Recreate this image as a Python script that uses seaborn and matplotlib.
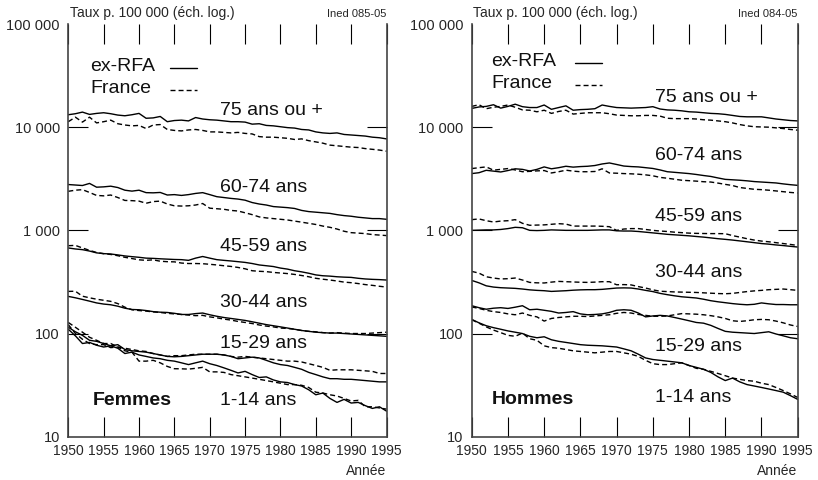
# Mortalité par âge, ex-RFA et France, 1950-1995 (échelle log)
import pandas as pd
import matplotlib
matplotlib.use("Agg")
import matplotlib.pyplot as plt
from matplotlib.ticker import FixedLocator, FuncFormatter
import seaborn as sns

sns.set_style("white")
plt.rcParams["font.family"] = ["Liberation Sans", "DejaVu Sans"]

annees = list(range(1950, 1996))
ages = ["75 ans ou +", "60-74 ans", "45-59 ans", "30-44 ans", "15-29 ans", "1-14 ans"]

# --- FEMMES ---
fem_75_rfa = [13200, 13500, 14000, 13300, 13600, 13800, 13500, 13100, 12900, 13200,
              13600, 12200, 12300, 12700, 11300, 11600, 11700, 11500, 12400, 12000,
              11800, 11700, 11500, 11300, 11300, 11200, 10700, 10800, 10400, 10300,
              10100, 9900, 9800, 9500, 9400, 9000, 8800, 8700, 8800, 8500,
              8400, 8300, 8200, 8000, 7900, 7700]
fem_75_fra = [11300, 12500, 11200, 12500, 11000, 11300, 11700, 10800, 10500, 10300,
              10400, 9700, 10500, 10600, 9500, 9300, 9200, 9400, 9500, 9300,
              9000, 9000, 8900, 8800, 8900, 8700, 8600, 8100, 8000, 8000,
              7900, 7800, 7600, 7700, 7400, 7200, 7000, 6700, 6600, 6500,
              6400, 6350, 6200, 6100, 6000, 5850]
fem_60_rfa = [2780, 2750, 2720, 2850, 2620, 2640, 2680, 2600, 2450, 2400,
              2450, 2320, 2310, 2330, 2200, 2220, 2180, 2220, 2280, 2320,
              2220, 2120, 2080, 2040, 2010, 1960, 1860, 1800, 1760, 1700,
              1680, 1660, 1630, 1560, 1520, 1500, 1480, 1460, 1420, 1390,
              1370, 1340, 1320, 1300, 1300, 1280]
fem_60_fra = [2390, 2450, 2480, 2330, 2180, 2160, 2200, 2080, 1950, 1940,
              1920, 1830, 1900, 1920, 1800, 1730, 1720, 1730, 1760, 1820,
              1640, 1620, 1600, 1560, 1540, 1480, 1420, 1350, 1320, 1300,
              1280, 1260, 1230, 1200, 1170, 1140, 1100, 1070, 1030, 980,
              950, 940, 930, 910, 900, 890]
fem_45_rfa = [675, 660, 650, 630, 605, 595, 590, 578, 565, 556,
              548, 538, 535, 530, 526, 522, 520, 512, 538, 558,
              538, 520, 512, 505, 497, 489, 477, 462, 454, 446,
              431, 421, 406, 396, 384, 370, 363, 360, 355, 352,
              350, 343, 338, 335, 333, 330]
fem_45_fra = [710, 715, 675, 640, 610, 594, 584, 568, 548, 533,
              518, 512, 518, 502, 497, 495, 482, 477, 477, 475,
              469, 462, 454, 447, 437, 424, 406, 401, 398, 391,
              386, 381, 374, 365, 355, 343, 336, 330, 323, 315,
              311, 305, 298, 293, 287, 282]
fem_30_rfa = [229, 222, 214, 206, 198, 193, 190, 184, 176, 171,
              170, 167, 163, 161, 160, 157, 153, 153, 156, 158,
              152, 147, 143, 140, 137, 134, 130, 126, 122, 119,
              116, 113, 110, 107, 105, 103, 102, 101, 101, 100,
              99, 98, 97, 96, 95, 94]
fem_30_fra = [256, 257, 230, 222, 215, 210, 205, 195, 180, 170,
              167, 165, 162, 160, 157, 155, 153, 151, 149, 150,
              145, 142, 138, 135, 131, 128, 125, 121, 118, 116,
              113, 112, 110, 107, 105, 104, 102, 101, 102, 101,
              100, 100, 100, 101, 102, 103]
fem_15_rfa = [115, 104, 96, 86, 84, 80, 76, 78, 70, 68,
              67, 66, 64, 62, 60, 59.5, 60, 61, 62, 63,
              63, 63, 62, 60, 57, 58, 59, 58, 55, 52,
              50, 49, 47, 45, 42, 40, 38, 36.5, 36.5, 36,
              36, 35.5, 35, 34.5, 34, 34]
fem_15_fra = [128, 115, 103, 92, 86, 80, 80, 74, 72, 70,
              68, 67, 64, 62, 60, 61, 61, 62, 63, 63,
              63, 63, 62, 60, 59, 60, 59, 58, 57, 56,
              55, 54, 54, 53, 51, 49, 47, 44, 44.5, 44.5,
              44.5, 44, 43.5, 43, 41, 41]
fem_1_rfa = [110, 95, 80, 82, 77, 74, 76, 72, 64, 66,
             62, 60, 58, 57, 55, 54, 52, 50, 52, 54,
             51, 49, 46.5, 44, 41.5, 43, 40, 37.5, 38, 35.5,
             34, 33.5, 32, 31, 28.5, 25.5, 26.5, 23.5, 21.5, 23,
             21.2, 21.5, 20, 18.8, 19.5, 17.7]
fem_1_fra = [122, 100, 88, 80, 78, 78, 73, 74, 68, 66,
             54, 54, 55, 52, 48, 45.6, 45.5, 45.2, 46, 47,
             42.5, 42.5, 42, 40, 39, 38, 37, 36, 35, 34,
             33, 32, 32, 31.5, 30, 27, 26.5, 25.5, 24.8, 23.5,
             22.2, 22.5, 19.5, 19.5, 19, 18.5]

# --- HOMMES ---
hom_75_rfa = [15200, 15700, 15900, 16500, 15300, 15900, 16700, 15800, 15500, 15500,
              16400, 14900, 15500, 16100, 14600, 14800, 14900, 15100, 16400, 15900,
              15500, 15400, 15300, 15400, 15500, 15800, 15000, 14700, 14600, 14400,
              14100, 14000, 13800, 13600, 13500, 13300, 13000, 12700, 12600, 12600,
              12600, 12300, 12000, 11800, 11600, 11500]
hom_75_fra = [15900, 16500, 15100, 15600, 15900, 16400, 15600, 14700, 14600, 14100,
              14600, 13600, 14200, 14600, 13400, 13600, 13800, 13800, 13800, 13500,
              13100, 13000, 12900, 12900, 13000, 13000, 12800, 12200, 12100, 12100,
              12100, 12000, 11800, 11700, 11500, 11300, 11000, 10600, 10300, 10100,
              10050, 10000, 9850, 9700, 9500, 9350]
hom_60_rfa = [3550, 3620, 3820, 3750, 3680, 3800, 3950, 3900, 3760, 3900,
              4120, 3950, 4050, 4180, 4100, 4150, 4180, 4250, 4400, 4500,
              4350, 4200, 4150, 4120, 4050, 3980, 3850, 3700, 3650, 3600,
              3550, 3480, 3400, 3330, 3220, 3120, 3090, 3060, 3020, 2970,
              2940, 2910, 2880, 2820, 2770, 2730]
hom_60_fra = [3970, 4050, 4120, 3830, 3900, 3970, 3850, 3700, 3730, 3770,
              3800, 3600, 3700, 3830, 3750, 3700, 3700, 3720, 3950, 3600,
              3580, 3550, 3530, 3500, 3450, 3380, 3260, 3200, 3130, 3060,
              3030, 3000, 2960, 2940, 2870, 2790, 2720, 2600, 2550, 2500,
              2480, 2450, 2410, 2370, 2330, 2300]
hom_45_rfa = [1000, 1005, 1010, 1010, 1020, 1040, 1070, 1060, 1000, 995,
              1000, 1010, 1005, 1000, 1000, 1000, 1000, 1005, 1010, 1010,
              990, 985, 985, 975, 960, 945, 930, 915, 905, 895,
              885, 872, 860, 845, 830, 818, 805, 790, 775, 760,
              745, 735, 722, 712, 700, 689]
hom_45_fra = [1270, 1290, 1240, 1205, 1230, 1240, 1270, 1170, 1120, 1125,
              1130, 1145, 1160, 1150, 1100, 1100, 1100, 1100, 1095, 1085,
              1000, 1030, 1040, 1040, 1020, 1000, 985, 975, 960, 950,
              940, 935, 932, 930, 930, 928, 890, 860, 830, 805,
              787, 775, 760, 745, 730, 714]
hom_30_rfa = [327, 310, 290, 282, 278, 276, 274, 270, 265, 262,
              260, 256, 258, 260, 263, 265, 266, 266, 268, 272,
              276, 277, 276, 270, 262, 255, 245, 238, 232, 227,
              224, 221, 215, 208, 203, 199, 195, 192, 190, 192,
              198, 194, 191, 191, 190, 190]
hom_30_fra = [400, 385, 355, 345, 338, 340, 345, 330, 313, 310,
              309, 315, 320, 318, 316, 314, 313, 315, 318, 318,
              297, 298, 296, 285, 276, 265, 257, 255, 253, 252,
              251, 250, 248, 246, 244, 243, 245, 250, 255, 259,
              262, 266, 268, 270, 266, 262]
hom_15_rfa = [186, 178, 172, 176, 178, 175, 180, 186, 170, 172,
              168, 164, 158, 160, 163, 155, 152, 153, 155, 160,
              168, 170, 168, 158, 145, 148, 150, 148, 143, 138,
              133, 128, 126, 120, 112, 105, 103, 102, 101, 100,
              102, 104, 99, 95, 91, 89]
hom_15_fra = [181, 175, 168, 163, 160, 155, 152, 158, 150, 145,
              132, 140, 143, 145, 147, 147, 146, 148, 150, 152,
              157, 160, 158, 153, 150, 147, 147, 148, 152, 156,
              155, 154, 152, 149, 145, 140, 133, 131, 133, 136,
              137, 136, 132, 127, 121, 117]
hom_1_rfa = [137, 127, 119, 114, 110, 106, 103, 100, 94, 91,
             93, 87, 84, 82, 80, 78, 77, 76.5, 76, 75,
             74, 71, 68, 63, 58, 56, 55, 54, 53, 52,
             49, 47, 45, 42, 38, 35, 37, 34, 32, 31,
             30, 29, 28, 27, 25, 23]
hom_1_fra = [136, 126, 116, 108, 102, 96, 94, 101, 89, 86,
             76, 73, 72, 70, 68, 67, 66, 65, 66, 67,
             67, 65, 63, 60, 55, 51, 50, 50, 51, 52,
             49, 46, 45, 43, 41, 39, 37, 36, 35, 34.5,
             33, 32, 30, 28, 26, 24]

series = {
    "Femmes": [(fem_75_rfa, fem_75_fra), (fem_60_rfa, fem_60_fra), (fem_45_rfa, fem_45_fra),
               (fem_30_rfa, fem_30_fra), (fem_15_rfa, fem_15_fra), (fem_1_rfa, fem_1_fra)],
    "Hommes": [(hom_75_rfa, hom_75_fra), (hom_60_rfa, hom_60_fra), (hom_45_rfa, hom_45_fra),
               (hom_30_rfa, hom_30_fra), (hom_15_rfa, hom_15_fra), (hom_1_rfa, hom_1_fra)],
}

rows = []
for sexe, groupes in series.items():
    for age, (rfa, fra) in zip(ages, groupes):
        assert len(rfa) == len(annees) and len(fra) == len(annees)
        for pays, vals in (("ex-RFA", rfa), ("France", fra)):
            for a, v in zip(annees, vals):
                rows.append((sexe, age, pays, a, v))
df = pd.DataFrame(rows, columns=["sexe", "age", "pays", "annee", "taux"])

# position des étiquettes (année, taux) et de la légende (fraction d'axes)
etiquettes = {
    "Femmes": {"x": 1971.5, "y": [14600, 2610, 700, 200, 80, 22.2], "sexe_x": 1953.4, "sexe_y": 22.2,
               "code": "Ined 085-05",
               "leg_txt_x": 0.068, "leg_txt_y": [0.898, 0.843],
               "leg_line_x": [0.320, 0.405], "leg_line_y": [0.893, 0.840]},
    "Hommes": {"x": 1975.3, "y": [19500, 5350, 1370, 388, 74.8, 24.1], "sexe_x": 1952.8, "sexe_y": 23,
               "code": "Ined 084-05",
               "leg_txt_x": 0.061, "leg_txt_y": [0.910, 0.857],
               "leg_line_x": [0.317, 0.399], "leg_line_y": [0.906, 0.852]},
}
axes_pos = {"Femmes": [0.0835, 0.0902, 0.389, 0.8598],
            "Hommes": [0.5767, 0.0902, 0.3985, 0.8598]}

etiq_y = {10: "10", 100: "100", 1000: "1 000", 10000: "10 000", 100000: "100 000"}
tirets = (3.6, 2.2)

fig = plt.figure(figsize=(8.18, 4.8), dpi=100)

for sexe in ["Femmes", "Hommes"]:
    ax = fig.add_axes(axes_pos[sexe])
    d = df[df["sexe"] == sexe]
    sns.lineplot(data=d, x="annee", y="taux", style="pays", units="age", estimator=None,
                 color="black", lw=1.0, dashes={"ex-RFA": "", "France": tirets},
                 legend=False, ax=ax)
    ax.set_yscale("log")
    ax.set_xlim(1950, 1995)
    ax.set_ylim(10, 100000)
    ax.set_xlabel("")
    ax.set_ylabel("")

    # graduations
    ax.xaxis.set_major_locator(FixedLocator(list(range(1950, 1996, 5))))
    ax.tick_params(axis="x", which="major", direction="in", length=14.5, width=0.8,
                   top=True, bottom=True, labeltop=False, labelsize=10, pad=5, color="black")
    ax.yaxis.set_major_locator(FixedLocator([100, 1000, 10000]))
    ax.yaxis.set_minor_locator(FixedLocator([10, 100000]))
    fmt = FuncFormatter(lambda v, p: etiq_y.get(int(round(v)), ""))
    ax.yaxis.set_major_formatter(fmt)
    ax.yaxis.set_minor_formatter(fmt)
    ax.tick_params(axis="y", which="major", direction="in", length=14.5, width=0.8,
                   left=True, right=True, labelsize=10.5, pad=6, color="black")
    ax.tick_params(axis="y", which="minor", length=0, left=True, right=False,
                   labelsize=10.5, pad=6)
    ax.spines["top"].set_visible(False)
    for s in ["left", "right", "bottom"]:
        ax.spines[s].set_color("#444444")
        ax.spines[s].set_linewidth(1.2)

    # étiquettes
    cfg = etiquettes[sexe]
    for age, yv in zip(ages, cfg["y"]):
        ax.text(cfg["x"], yv, age, fontsize=14, va="center", ha="left", color="#111111")
    ax.text(cfg["sexe_x"], cfg["sexe_y"], sexe, fontsize=14, fontweight="bold",
            va="center", ha="left", color="#111111")
    ax.text(0.005, 1.027, "Taux p. 100 000 (éch. log.)", transform=ax.transAxes,
            fontsize=10, va="center", ha="left")
    ax.text(1.0, 1.024, cfg["code"], transform=ax.transAxes, fontsize=8,
            va="center", ha="right")
    ax.text(1.0, -0.082, "Année", transform=ax.transAxes, fontsize=10,
            va="center", ha="right")

    # légende : texte à gauche, trait à droite
    for i, (nom, style) in enumerate([("ex-RFA", "-"), ("France", (0, tirets))]):
        ax.text(cfg["leg_txt_x"], cfg["leg_txt_y"][i], nom, transform=ax.transAxes,
                fontsize=14, va="center", ha="left", color="#111111")
        ax.plot(cfg["leg_line_x"], [cfg["leg_line_y"][i]] * 2, transform=ax.transAxes,
                color="black", lw=1.0, linestyle=style, clip_on=False)

fig.savefig("out.png", dpi=100)
